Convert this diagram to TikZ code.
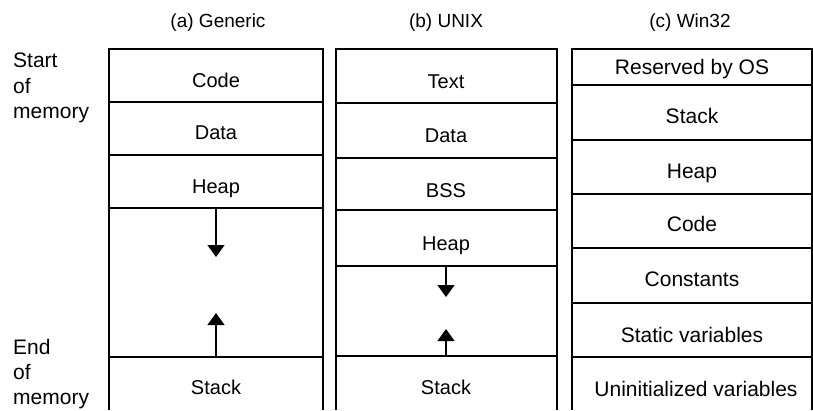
\documentclass[tikz,border=0pt]{standalone}
\usepackage{fontspec}
\setmainfont{Liberation Sans}
\usetikzlibrary{arrows.meta}
\begin{document}
\begin{tikzpicture}[x=1bp,y=-1bp,
  lbl/.style={anchor=base,inner sep=0pt,font=\fontsize{20bp}{24bp}\selectfont},
  wlbl/.style={anchor=base,inner sep=0pt,font=\fontsize{21bp}{25bp}\selectfont},
  titlelbl/.style={anchor=base,inner sep=0pt,font=\fontsize{19bp}{23bp}\selectfont},
  sidelbl/.style={anchor=base west,inner sep=0pt,font=\fontsize{21bp}{25bp}\selectfont},
  wall/.style={line width=1.2bp},
  growarrow/.style={line width=1.2bp,-{Triangle[width=17bp,length=12bp]}}]
\useasboundingbox (0,0) rectangle (813,410);

% titles
\node[titlelbl] (ta) at (218,27) {(a) Generic};
\node[titlelbl] (tb) at (446,27) {(b) UNIX};
\node[titlelbl] (tc) at (690,27) {(c) Win32};

% side labels
\node[sidelbl] (s1) at (13,67) {Start};
\node[sidelbl] (s2) at (13,93) {of};
\node[sidelbl] (s3) at (13,118) {memory};
\node[sidelbl] (e1) at (13,354) {End};
\node[sidelbl] (e2) at (13,379) {of};
\node[sidelbl] (e3) at (13,404) {memory};

% column (a)
\draw[wall] (109,410) -- (109,49) -- (323,49) -- (323,410);
\foreach \y in {102,155,208,357} \draw[wall] (109,\y) -- (323,\y);
\node[lbl] (a1) at (216,87) {Code};
\node[lbl] (a2) at (216,139) {Data};
\node[lbl] (a3) at (216,193) {Heap};
\node[lbl] (a4) at (216,394) {Stack};
\coordinate (aHs) at (216,208);
\coordinate (aHe) at (216,257);
\coordinate (aSs) at (216,357);
\coordinate (aSe) at (216,313);
\draw[growarrow] (aHs) -- (aHe);
\draw[growarrow] (aSs) -- (aSe);

% column (b)
\draw[wall] (336,410) -- (336,49) -- (557,49) -- (557,410);
\foreach \y in {103,158,210,266,356} \draw[wall] (336,\y) -- (557,\y);
\node[lbl] (b1) at (446,88) {Text};
\node[lbl] (b2) at (446,142) {Data};
\node[lbl] (b3) at (446,197) {BSS};
\node[lbl] (b4) at (446,250) {Heap};
\node[lbl] (b5) at (446,394) {Stack};
\coordinate (bHs) at (446,266);
\coordinate (bHe) at (446,297);
\coordinate (bSs) at (446,356);
\coordinate (bSe) at (446,329);
\draw[growarrow] (bHs) -- (bHe);
\draw[growarrow] (bSs) -- (bSe);

% column (c)
\draw[wall] (572,410) -- (572,49) -- (812,49) -- (812,410);
\foreach \y in {85,140,194,248,303,357} \draw[wall] (572,\y) -- (812,\y);
\node[wlbl] (c1) at (692,74) {Reserved by OS};
\node[wlbl] (c2) at (692,123) {Stack};
\node[wlbl] (c3) at (692,178) {Heap};
\node[wlbl] (c4) at (692,231) {Code};
\node[wlbl] (c5) at (692,286) {Constants};
\node[wlbl] (c6) at (692,342) {Static variables};
\node[wlbl] (c7) at (696,396) {Uninitialized variables};
\end{tikzpicture}
\end{document}
